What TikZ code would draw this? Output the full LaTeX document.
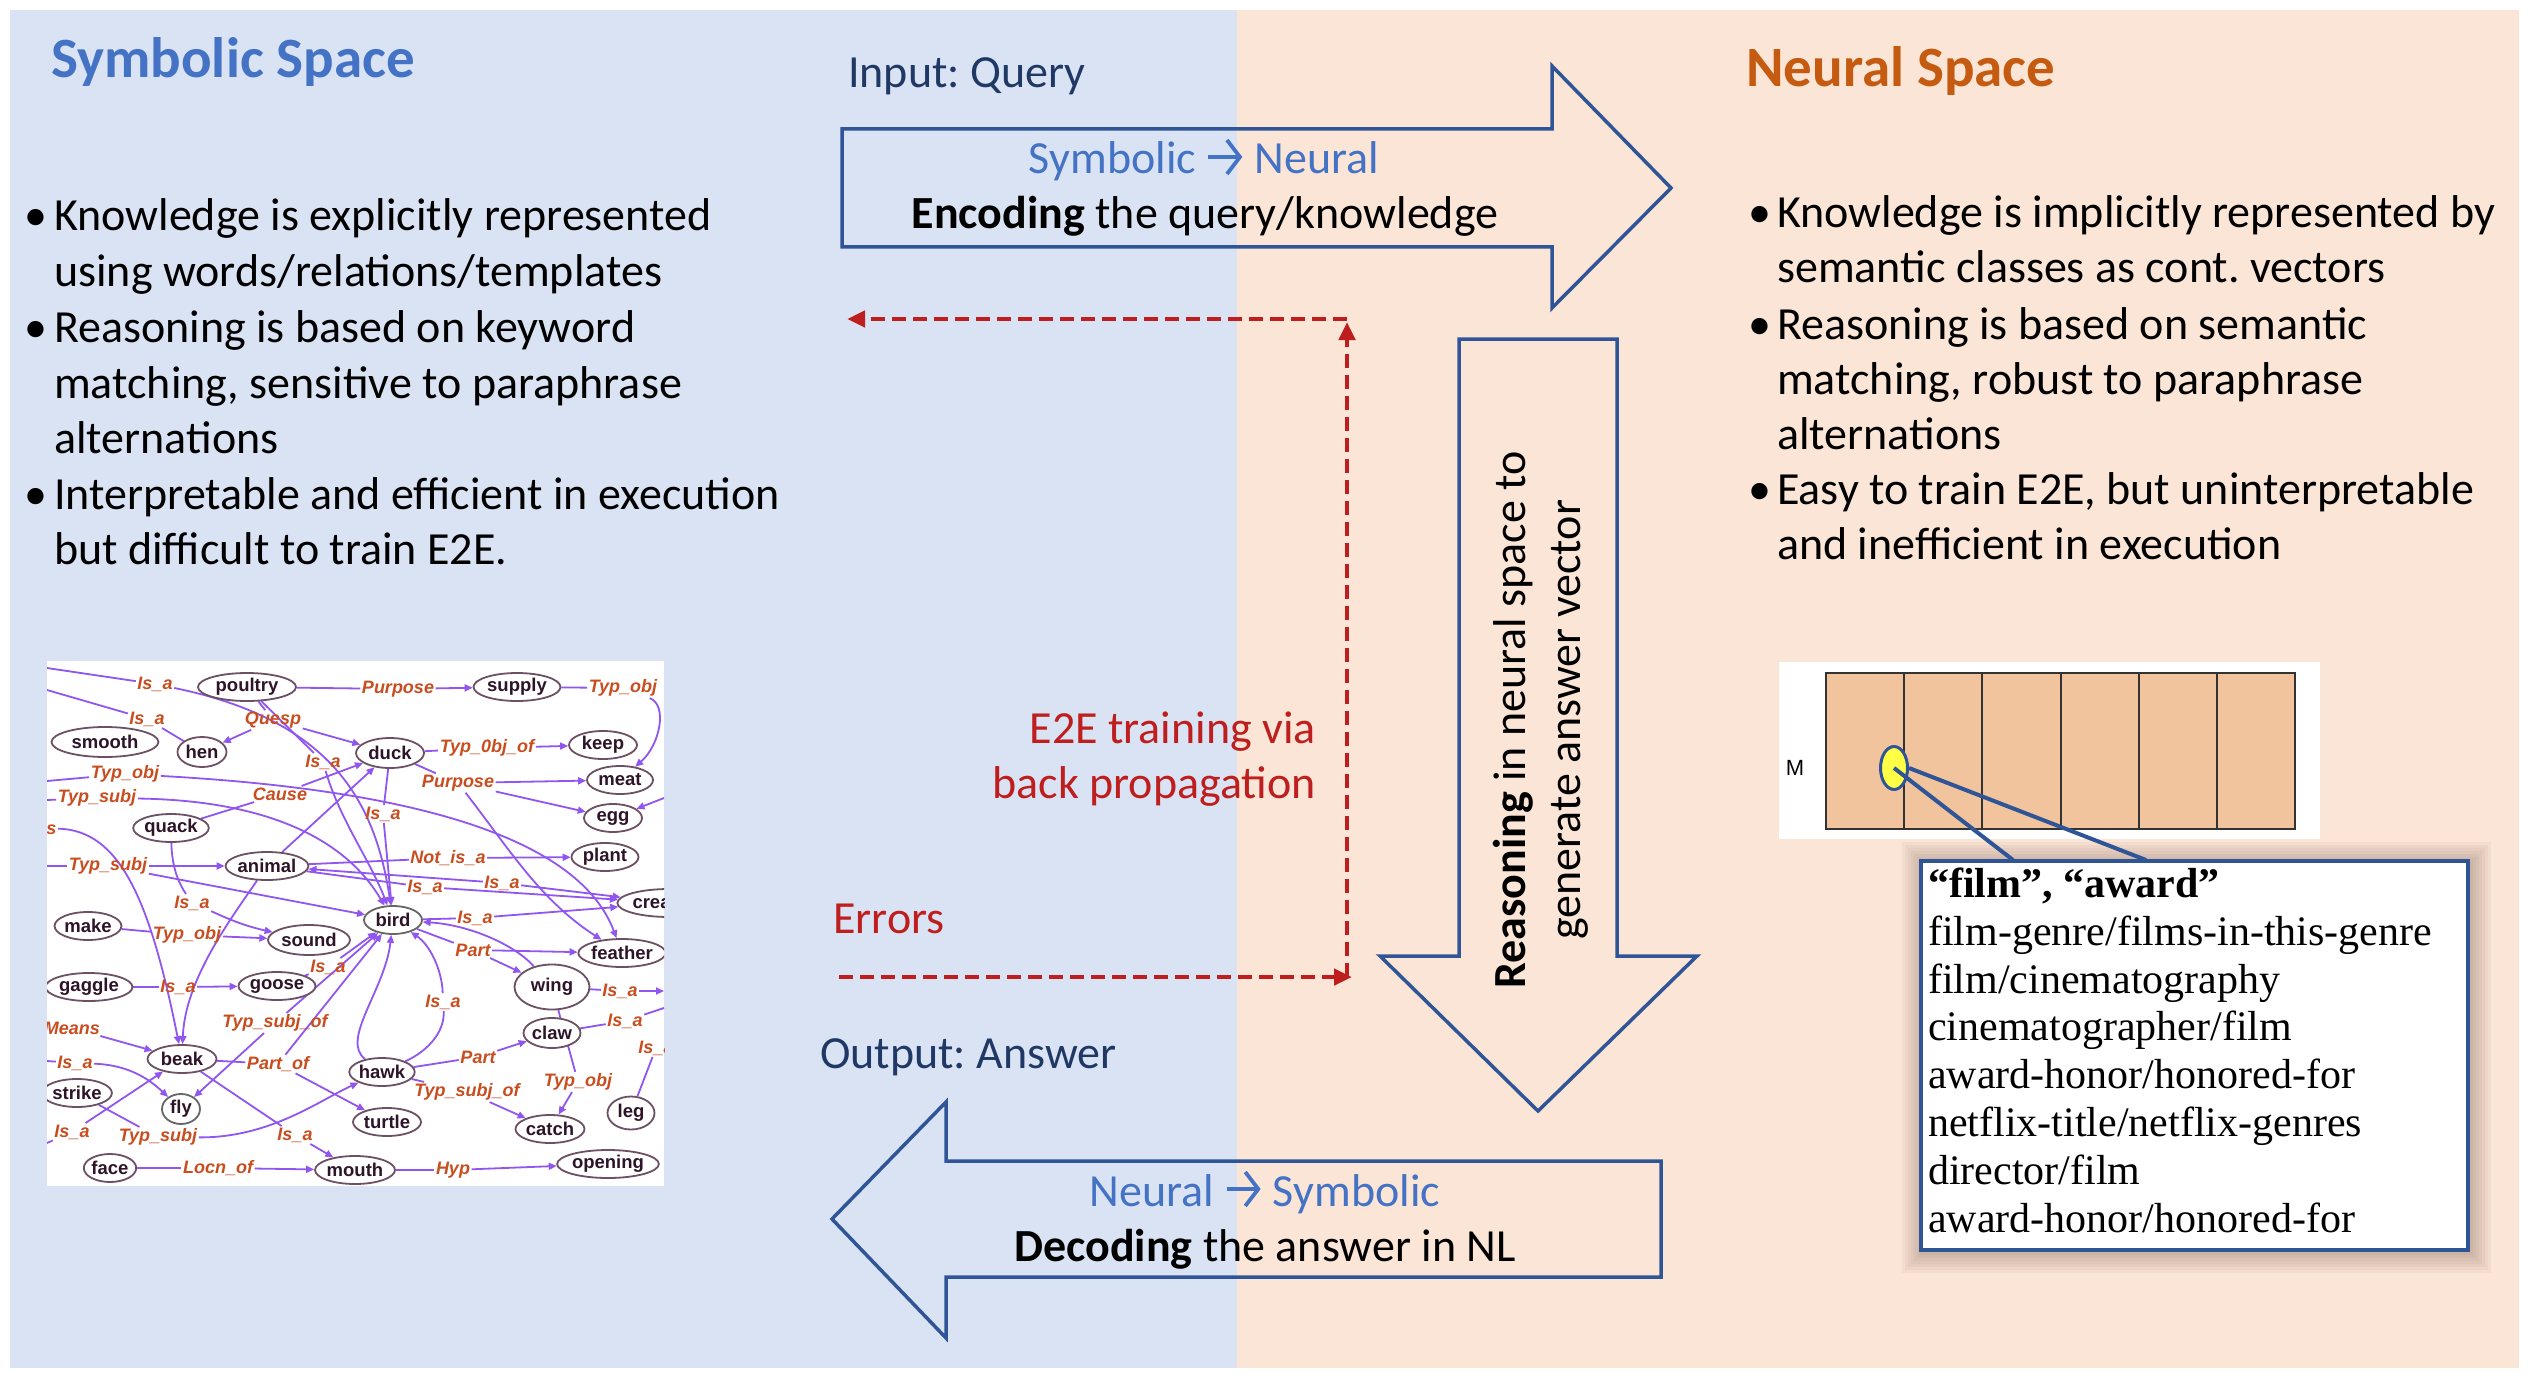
\documentclass[tikz,border=0pt]{standalone}
\usepackage{fontspec}
\setmainfont{Carlito}
\newfontfamily\gfont{Liberation Sans}
\newfontfamily\tfont{Liberation Serif}
\usetikzlibrary{arrows.meta,shapes.geometric}
\definecolor{bgblue}{RGB}{218,227,243}
\definecolor{bgpeach}{RGB}{251,229,214}
\definecolor{accblue}{RGB}{68,114,196}
\definecolor{navy}{RGB}{31,56,100}
\definecolor{arrblue}{RGB}{47,85,151}
\definecolor{neuralorange}{RGB}{197,90,17}
\definecolor{dred}{RGB}{190,30,30}
\definecolor{gedge}{RGB}{145,85,240}
\definecolor{glabel}{RGB}{200,78,32}
\definecolor{gnode}{RGB}{110,80,100}
\definecolor{gtext}{RGB}{45,20,40}
\definecolor{cell}{RGB}{241,196,158}
\definecolor{shadowc}{RGB}{110,80,70}
\definecolor{dotyellow}{RGB}{255,255,70}
\pgfdeclarelayer{bg}
\pgfdeclarelayer{edges}
\pgfsetlayers{bg,edges,main}
\newcommand{\myarrow}{\tikz[baseline=-17pt]\draw[line width=3.8pt,-{Straight Barb[length=13pt,width=34pt,line width=3.8pt]}] (0pt,0pt) -- (34pt,0pt);}
\tikzset{
  txt/.style={font=\fontsize{46}{55}\selectfont, inner sep=0pt, anchor=base west},
  ctr/.style={font=\fontsize{46}{55}\selectfont, inner sep=0pt, anchor=base},
  ttl/.style={font=\bfseries\fontsize{57}{68}\selectfont, inner sep=0pt, anchor=base west},
  blk/.style={draw=arrblue, line width=3.5pt, line join=miter},
  rd/.style={draw=dred, line width=4.5pt, dash pattern=on 14pt off 7pt, -{Triangle[length=18pt,width=16pt]}},
  gn/.style={ellipse, draw=gnode, line width=1.8pt, fill=white, inner sep=0pt, text=gtext, font=\gfont\bfseries\fontsize{18.5}{21}\selectfont},
  gl/.style={text=glabel, font=\gfont\bfseries\itshape\fontsize{18}{21}\selectfont, inner sep=1.5pt},
  ge/.style={draw=gedge, line width=1.8pt},
  ga/.style={ge, -{Triangle[length=8pt,width=7pt]}},
  ctext/.style={font=\tfont\fontsize{42}{48}\selectfont, inner sep=0pt, anchor=base west}
}
\frenchspacing
\begin{document}
\begin{tikzpicture}[x=1pt,y=-1pt]
\useasboundingbox (0,0) rectangle (2534,1380);
\begin{pgfonlayer}{bg}
\fill[white] (0,0) rectangle (2534,1380);
\fill[bgblue] (10,10) rectangle (1237,1368);
\fill[bgpeach] (1237,10) rectangle (2519,1368);
\fill[white] (47,661) rectangle (664,1186);
\end{pgfonlayer}

% titles
\node[ttl, text=accblue] (tsym) at (51,78) {Symbolic Space};
\node[ttl, text=neuralorange] (tneu) at (1746,87) {Neural Space};

% left bullets
\node[txt] (lb1) at (24,231) {•};
\node[txt] (lt1) at (54,231) {Knowledge is explicitly represented};
\node[txt] (lt2) at (54,287) {using words/relations/templates};
\node[txt] (lb3) at (24,342) {•};
\node[txt] (lt3) at (54,342) {Reasoning is based on keyword};
\node[txt] (lt4) at (54,398) {matching, sensitive to paraphrase};
\node[txt] (lt5) at (54,453) {alternations};
\node[txt] (lb6) at (24,509) {•};
\node[txt] (lt6) at (54,509) {Interpretable and efficient in execution};
\node[txt] (lt7) at (54,564) {but difficult to train E2E.};

% right bullets
\node[txt] (rb1) at (1748,228) {•};
\node[txt] (rt1) at (1777,228) {Knowledge is implicitly represented by};
\node[txt] (rt2) at (1777,283) {semantic classes as cont. vectors};
\node[txt] (rb3) at (1748,339) {•};
\node[txt] (rt3) at (1777,339) {Reasoning is based on semantic};
\node[txt] (rt4) at (1777,394) {matching, robust to paraphrase};
\node[txt] (rt5) at (1777,449) {alternations};
\node[txt] (rb6) at (1748,504) {•};
\node[txt] (rt6) at (1777,504) {Easy to train E2E, but uninterpretable};
\node[txt] (rt7) at (1777,559) {and inefficient in execution};

% block arrows
\draw[blk] (842,129) -- (1552,129) -- (1552,66) -- (1671,188) -- (1552,308) -- (1552,247) -- (842,247) -- cycle;
\draw[blk] (1459,339) -- (1617,339) -- (1617,956) -- (1697,956) -- (1538,1111) -- (1380,956) -- (1459,956) -- cycle;
\draw[blk] (1661,1161) -- (946,1161) -- (946,1102) -- (832,1219) -- (946,1338) -- (946,1277) -- (1661,1277) -- cycle;

\node[txt, text=navy] (inq) at (848,88) {Input: Query};
\node[ctr, text=accblue] (s2n) at (1204,174) {Symbolic \myarrow{} Neural};
\node[ctr] (enc) at (1205,229) {\textbf{Encoding} the query/knowledge};
\node[txt, text=navy] (outa) at (820,1068) {Output: Answer};
\node[ctr, text=accblue] (n2s) at (1265,1206) {Neural \myarrow{} Symbolic};
\node[ctr] (dec) at (1265,1261) {\textbf{Decoding} the answer in NL};
\node[ctr, rotate=90] (rs1) at (1525,720) {\textbf{Reasoning} in neural space to};
\node[ctr, rotate=90] (rs2) at (1580,720) {generate answer vector};

% red dashed feedback
\coordinate (eS) at (839,977);
\coordinate (eC) at (1352,977);
\coordinate (vB) at (1347,977);
\coordinate (vT) at (1347,322);
\coordinate (tR) at (1347,319);
\coordinate (tL) at (847,319);
\draw[rd] (eS) -- (eC);
\draw[rd] (vB) -- (vT);
\draw[rd] (tR) -- (tL);
\node[txt, anchor=base east, text=dred] (e2e1) at (1316,743) {E2E training via};
\node[txt, anchor=base east, text=dred] (e2e2) at (1316,798) {back propagation};
\node[txt, text=dred] (err) at (833,933) {Errors};

% knowledge graph
\begin{scope}
\clip (47,661) rectangle (664,1186);
\node[gn,minimum width=98pt,minimum height=28pt] (poultry) at (247,687) {poultry};
\node[gn,minimum width=87pt,minimum height=28pt] (supply) at (517,687) {supply};
\node[gn,minimum width=107pt,minimum height=30pt] (smooth) at (105,742) {smooth};
\node[gn,minimum width=49pt,minimum height=30pt] (hen) at (202,752) {hen};
\node[gn,minimum width=68pt,minimum height=30pt] (duck) at (390,753) {duck};
\node[gn,minimum width=68pt,minimum height=28pt] (keep) at (603,745) {keep};
\node[gn,minimum width=66pt,minimum height=28pt] (meat) at (620,780) {meat};
\node[gn,minimum width=58pt,minimum height=28pt] (egg) at (613,818) {egg};
\node[gn,minimum width=68pt,minimum height=28pt] (quack) at (171,828) {quack};
\node[gn,minimum width=76pt,minimum height=28pt] (animal) at (267,866) {animal};
\node[gn,minimum width=67pt,minimum height=28pt] (plant) at (605,857) {plant};
\node[gn,minimum width=92pt,minimum height=28pt] (creature) at (669,903) {creature};
\node[gn,draw=gray!80!black,minimum width=58pt,minimum height=28pt] (bird) at (393,920) {bird};
\node[gn,minimum width=65pt,minimum height=28pt] (make) at (88,926) {make};
\node[gn,minimum width=82pt,minimum height=30pt] (sound) at (309,940) {sound};
\node[gn,minimum width=87pt,minimum height=28pt] (feather) at (622,953) {feather};
\node[gn,minimum width=87pt,minimum height=28pt] (gaggle) at (89,987) {gaggle};
\node[gn,minimum width=73pt,minimum height=28pt] (goose) at (277,986) {goose};
\node[gn,minimum width=75pt,minimum height=45pt] (wing) at (552,987) {wing};
\node[gn,minimum width=57pt,minimum height=30pt] (claw) at (552,1033) {claw};
\node[gn,minimum width=69pt,minimum height=28pt] (beak) at (182,1059) {beak};
\node[gn,minimum width=63pt,minimum height=28pt] (hawk) at (382,1072) {hawk};
\node[gn,minimum width=64pt,minimum height=28pt] (strike) at (77,1093) {strike};
\node[gn,draw=gray!80!black,minimum width=38pt,minimum height=30pt] (fly) at (181,1109) {fly};
\node[gn,minimum width=47pt,minimum height=33pt] (leg) at (631,1113) {leg};
\node[gn,minimum width=68pt,minimum height=28pt] (turtle) at (387,1122) {turtle};
\node[gn,minimum width=69pt,minimum height=28pt] (catch) at (550,1129) {catch};
\node[gn,minimum width=51pt,minimum height=28pt] (face) at (110,1168) {face};
\node[gn,minimum width=74pt,minimum height=28pt] (mouth) at (355,1170) {mouth};
\node[gn,minimum width=97pt,minimum height=28pt] (opening) at (608,1164) {opening};

\node[gl] (l1) at (155,684) {Is\_a};
\node[gl] (l2) at (147,719) {Is\_a};
\node[gl] (l3) at (273,720) {Quesp};
\node[gl] (l4) at (398,689) {Purpose};
\node[gl] (l5) at (623,688) {Typ\_obj};
\node[gl] (l6) at (323,762) {Is\_a};
\node[gl] (l7) at (125,774) {Typ\_obj};
\node[gl] (l8) at (487,748) {Typ\_0bj\_of};
\node[gl] (l9) at (97,798) {Typ\_subj};
\node[gl] (l10) at (280,794) {Cause};
\node[gl] (l11) at (458,783) {Purpose};
\node[gl,anchor=east] (l12) at (58,828) {Means};
\node[gl] (l13) at (108,866) {Typ\_subj};
\node[gl] (l14) at (383,814) {Is\_a};
\node[gl] (l15) at (448,858) {Not\_is\_a};
\node[gl] (l16) at (502,883) {Is\_a};
\node[gl] (l17) at (425,887) {Is\_a};
\node[gl] (l18) at (192,903) {Is\_a};
\node[gl] (l19) at (475,918) {Is\_a};
\node[gl] (l20) at (187,935) {Typ\_obj};
\node[gl] (l21) at (473,950) {Part};
\node[gl] (l22) at (328,967) {Is\_a};
\node[gl] (l23) at (178,987) {Is\_a};
\node[gl] (l24) at (620,991) {Is\_a};
\node[gl] (l25) at (443,1002) {Is\_a};
\node[gl] (l26) at (625,1021) {Is\_a};
\node[gl] (l27) at (275,1023) {Typ\_subj\_of};
\node[gl] (l28) at (72,1028) {Means};
\node[gl] (l29) at (656,1048) {Is\_a};
\node[gl] (l30) at (478,1057) {Part};
\node[gl] (l31) at (75,1063) {Is\_a};
\node[gl] (l32) at (278,1064) {Part\_of};
\node[gl] (l33) at (578,1082) {Typ\_obj};
\node[gl] (l34) at (467,1092) {Typ\_subj\_of};
\node[gl] (l35) at (72,1132) {Is\_a};
\node[gl] (l36) at (158,1137) {Typ\_subj};
\node[gl] (l37) at (295,1135) {Is\_a};
\node[gl] (l38) at (218,1168) {Locn\_of};
\node[gl] (l39) at (453,1170) {Hyp};
\end{scope}

\coordinate (L1) at (47,668);
\coordinate (L2) at (47,690);
\coordinate (L3) at (47,781);
\coordinate (L4) at (47,800);
\coordinate (L5) at (47,866);
\coordinate (L6) at (47,1061);
\coordinate (L7) at (47,1143);
\coordinate (R1) at (664,991);
\coordinate (R2) at (664,1008);
\coordinate (R3) at (664,798);

\begin{pgfonlayer}{edges}
\clip (47,661) rectangle (664,1186);
\draw[ge] (L1) -- (l1);
\draw[ga] (l1) .. controls (330,720) and (375,800) .. (bird);
\draw[ge] (L2) -- (l2);
\draw[ge] (l2) -- (hen);
\draw[ge] (poultry) -- (l3);
\draw[ga] (l3) -- (hen);
\draw[ga] (l3) -- (duck);
\draw[ge] (poultry) -- (l4);
\draw[ga] (l4) -- (supply);
\draw[ge] (poultry) -- (l6);
\draw[ga] (l6) .. controls (340,820) and (370,860) .. (bird);
\draw[ge] (L3) -- (l7);
\draw[ga] (l7) .. controls (420,790) and (580,840) .. (feather);
\draw[ge] (L4) -- (l9);
\draw[ga] (l9) .. controls (250,800) and (340,830) .. (bird);
\draw[ge] (quack) -- (l10);
\draw[ga] (l10) -- (duck);
\draw[ga] (l12) .. controls (120,830) and (150,900) .. (beak);
\draw[ge] (L5) -- (l13);
\draw[ga] (l13) -- (animal);
\draw[ga] (l13) -- (bird);
\draw[ge] (quack) .. controls (172,870) and (180,885) .. (l18);
\draw[ga] (l18) .. controls (220,915) and (240,925) .. (sound);
\draw[ga] (animal) .. controls (230,920) and (185,980) .. (beak);
\draw[ga] (animal) -- (duck);
\draw[ge] (animal) -- (l15);
\draw[ga] (l15) -- (plant);
\draw[ga] (l16) -- (animal);
\draw[ga] (l16) -- (creature);
\draw[ge] (animal) -- (l17);
\draw[ga] (l17) -- (creature);
\draw[ge] (make) -- (l20);
\draw[ga] (l20) -- (sound);
\draw[ge] (gaggle) -- (l23);
\draw[ga] (l23) -- (goose);
\draw[ge] (goose) -- (l22);
\draw[ga] (l22) -- (bird);
\draw[ga] (l28) -- (beak);
\draw[ge] (L6) -- (l31);
\draw[ga] (l31) .. controls (130,1065) and (150,1080) .. (fly);
\draw[ge] (L7) -- (l35);
\draw[ga] (l35) -- (beak);
\draw[ge] (strike) -- (l36);
\draw[ga] (l36) .. controls (270,1138) and (320,1100) .. (hawk);
\draw[ga] (l27) -- (fly);
\draw[ga] (l27) -- (bird);
\draw[ge] (beak) -- (l32);
\draw[ga] (l32) -- (turtle);
\draw[ga] (l32) -- (bird);
\draw[ge] (beak) -- (l37);
\draw[ga] (l37) -- (mouth);
\draw[ge] (face) -- (l38);
\draw[ga] (l38) -- (mouth);
\draw[ge] (mouth) -- (l39);
\draw[ga] (l39) -- (opening);
\draw[ge] (hawk) .. controls (430,1050) and (445,1030) .. (l25);
\draw[ga] (l25) .. controls (442,970) and (430,945) .. (bird);
\draw[ge] (hawk) -- (l30);
\draw[ga] (l30) -- (claw);
\draw[ge] (hawk) -- (l34);
\draw[ga] (l34) -- (catch);
\draw[ga] (hawk) .. controls (340,1040) and (385,990) .. (bird);
\draw[ge] (bird) -- (l21);
\draw[ga] (l21) -- (feather);
\draw[ga] (l21) -- (wing);
\draw[ga] (wing) .. controls (515,945) and (470,925) .. (bird);
\draw[ge] (wing) -- (l24);
\draw[ga] (l24) -- (R1);
\draw[ge] (claw) -- (l26);
\draw[ge] (l26) -- (R2);
\draw[ge] (wing) -- (l33);
\draw[ga] (l33) -- (catch);
\draw[ge] (leg) -- (l29);
\draw[ge] (bird) -- (l19);
\draw[ga] (l19) -- (creature);
\draw[ge] (duck) -- (l11);
\draw[ga] (l11) -- (meat);
\draw[ga] (l11) -- (egg);
\draw[ga] (l11) .. controls (510,850) and (540,900) .. (feather);
\draw[ge] (supply) -- (l5);
\draw[ga] (l5) .. controls (668,705) and (660,745) .. (meat);
\draw[ga] (R3) -- (egg);
\draw[ge] (duck) -- (l8);
\draw[ga] (l8) -- (keep);
\draw[ge] (duck) -- (l14);
\draw[ga] (l14) -- (bird);
\end{pgfonlayer}

% answer vector
\fill[white] (1779,662) rectangle (2320,839);
\filldraw[fill=cell, draw=black!80, line width=2pt] (1826,673) rectangle (2295,829);
\foreach \k in {1,...,5} \draw[black!80, line width=2pt] ({1826+78.17*\k},673) -- ({1826+78.17*\k},829);
\node[font=\gfont\fontsize{22}{26}\selectfont, inner sep=0pt] (M) at (1795,768) {M};
\node[ellipse, draw=arrblue, line width=3pt, fill=dotyellow, minimum width=27pt, minimum height=43pt, inner sep=0pt] (dot) at (1894,768) {};

% callout
\foreach \s in {3,6,...,21} \fill[shadowc, opacity=0.05] ({1919+4-\s},{859+4-\s}) rectangle ({2466+4+\s},{1248+4+\s});
\coordinate (p1) at (2013,860);
\coordinate (p2) at (2146,860);
\draw[arrblue, line width=4pt] (dot.center) -- (p1);
\draw[arrblue, line width=4pt] (dot.east) -- (p2);
\node[draw=arrblue, line width=4pt, fill=white, minimum width=547pt, minimum height=389pt, anchor=north west, inner sep=0pt] (callout) at (1919,859) {};
\node[ctext] (c0) at (1928,897) {\textbf{“film”, “award”}};
\node[ctext] (c1) at (1928,945) {film-genre/films-in-this-genre};
\node[ctext] (c2) at (1928,993) {film/cinematography};
\node[ctext] (c3) at (1928,1040) {cinematographer/film};
\node[ctext] (c4) at (1928,1088) {award-honor/honored-for};
\node[ctext] (c5) at (1928,1136) {netflix-title/netflix-genres};
\node[ctext] (c6) at (1928,1184) {director/film};
\node[ctext] (c7) at (1928,1232) {award-honor/honored-for};
\end{tikzpicture}
\end{document}
